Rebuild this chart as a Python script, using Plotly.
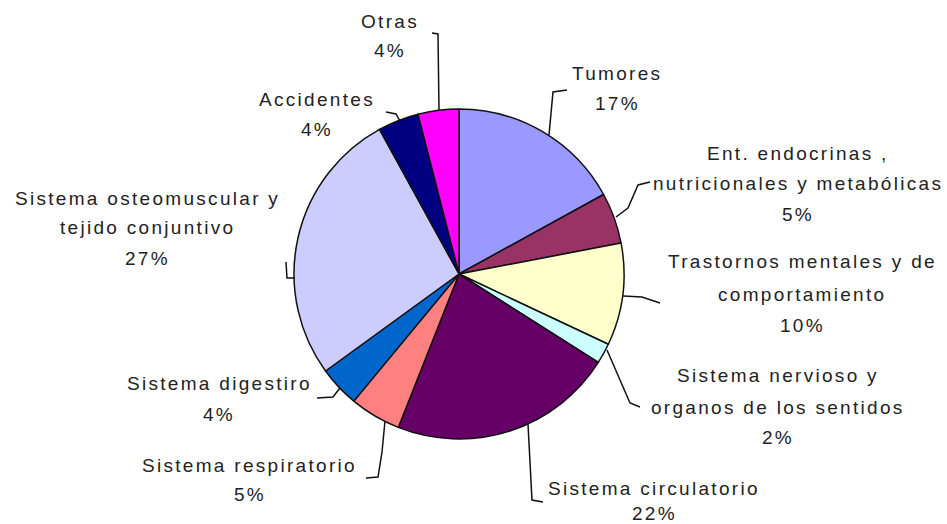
import plotly.graph_objects as go

W, H = 947, 524

# ---- data ----
categories = [
    "Tumores",
    "Ent. endocrinas, nutricionales y metabólicas",
    "Trastornos mentales y de comportamiento",
    "Sistema nervioso y organos de los sentidos",
    "Sistema circulatorio",
    "Sistema respiratorio",
    "Sistema digestiro",
    "Sistema osteomuscular y tejido conjuntivo",
    "Accidentes",
    "Otras",
]
values = [17, 5, 10, 2, 22, 5, 4, 27, 4, 4]
label_lines = [
    ["Tumores"],
    ["Ent. endocrinas ,", "nutricionales y metabólicas"],
    ["Trastornos mentales y de", "comportamiento"],
    ["Sistema nervioso y", "organos de los sentidos"],
    ["Sistema circulatorio"],
    ["Sistema respiratorio"],
    ["Sistema digestiro"],
    ["Sistema osteomuscular y", "tejido conjuntivo"],
    ["Accidentes"],
    ["Otras"],
]
colors = ["#9999FF", "#993366", "#FFFFCC", "#CCFFFF", "#660066",
          "#FF8080", "#0066CC", "#CCCCFF", "#000080", "#FF00FF"]

# ---- layout / style (pixel positions) ----
CX, CY, R = 459, 274, 165
label_x = [617, 798, 802, 778, 654, 250, 219, 147, 317, 390]
label_y = [
    [74, 103],
    [153, 183, 214],
    [261, 294, 325],
    [375, 407, 437],
    [488, 513],
    [465, 494],
    [383, 414],
    [198, 228, 258],
    [100, 129],
    [21, 51],
]
leaders = [
    [(567, 90), (553, 92), (549, 135)],
    [(650, 182), (638, 185), (628, 208), (616, 217)],
    [(660, 303), (642, 297), (623, 296)],
    [(607, 350), (630, 403), (640, 407)],
    [(528, 424), (532, 500), (543, 502)],
    [(385, 421), (382, 452), (378, 477), (366, 478)],
    [(340, 388), (333, 397), (317, 398)],
    [(286, 262), (287, 278), (295, 278)],
    [(386, 112), (396, 114), (400, 121)],
    [(432, 33), (438, 34), (439, 110)],
]


def px(x):
    return x / W


def py(y):
    return 1 - y / H


fig = go.Figure(go.Pie(
    labels=categories,
    values=values,
    sort=False,
    direction="clockwise",
    rotation=0,
    textinfo="none",
    hoverinfo="label+percent",
    marker=dict(colors=colors, line=dict(color="#111111", width=1.5)),
    domain=dict(x=[px(CX - R), px(CX + R)], y=[py(CY + R), py(CY - R)]),
    showlegend=False,
))

annotations = []
for i, lines in enumerate(label_lines):
    texts = lines + [f"{values[i]}%"]
    for t, yy in zip(texts, label_y[i]):
        annotations.append(dict(
            x=px(label_x[i]), y=py(yy), xref="paper", yref="paper",
            xanchor="center", yanchor="middle", showarrow=False,
            text=f'<span style="letter-spacing:2.3px">{t}</span>',
            font=dict(family="Liberation Sans, Arial, sans-serif", size=19, color="#222222"),
        ))

shapes = []
for pts in leaders:
    path = "M " + " L ".join(f"{px(x):.5f},{py(y):.5f}" for x, y in pts)
    shapes.append(dict(type="path", path=path, xref="paper", yref="paper",
                       line=dict(color="#111111", width=1.5)))

fig.update_layout(
    width=W, height=H,
    margin=dict(l=0, r=0, t=0, b=0),
    paper_bgcolor="white", plot_bgcolor="white",
    annotations=annotations, shapes=shapes,
)

fig.write_html("out.html")
